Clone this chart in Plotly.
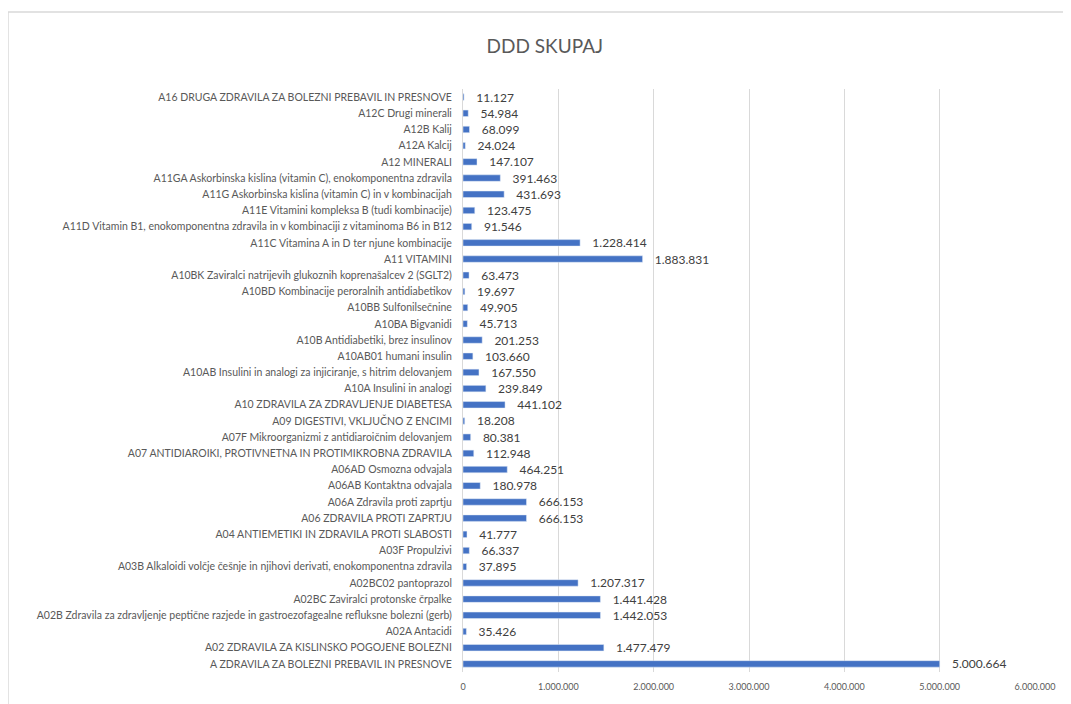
import plotly.graph_objects as go

categories = [
    "A ZDRAVILA ZA BOLEZNI PREBAVIL IN PRESNOVE",
    "A02 ZDRAVILA ZA KISLINSKO POGOJENE BOLEZNI",
    "A02A Antacidi",
    "A02B Zdravila za zdravljenje peptične razjede in gastroezofagealne refluksne bolezni (gerb)",
    "A02BC Zaviralci protonske črpalke",
    "A02BC02 pantoprazol",
    "A03B Alkaloidi volčje češnje in njihovi derivati, enokomponentna zdravila",
    "A03F Propulzivi",
    "A04 ANTIEMETIKI IN ZDRAVILA PROTI SLABOSTI",
    "A06 ZDRAVILA PROTI ZAPRTJU",
    "A06A Zdravila proti zaprtju",
    "A06AB Kontaktna odvajala",
    "A06AD Osmozna odvajala",
    "A07 ANTIDIAROIKI, PROTIVNETNA IN PROTIMIKROBNA ZDRAVILA",
    "A07F Mikroorganizmi z antidiaroičnim delovanjem",
    "A09 DIGESTIVI, VKLJUČNO Z ENCIMI",
    "A10 ZDRAVILA ZA ZDRAVLJENJE DIABETESA",
    "A10A Insulini in analogi",
    "A10AB Insulini in analogi za injiciranje, s hitrim delovanjem",
    "A10AB01 humani insulin",
    "A10B Antidiabetiki, brez insulinov",
    "A10BA Bigvanidi",
    "A10BB Sulfonilsečnine",
    "A10BD Kombinacije peroralnih antidiabetikov",
    "A10BK Zaviralci natrijevih glukoznih koprenašalcev 2 (SGLT2)",
    "A11 VITAMINI",
    "A11C Vitamina A in D ter njune kombinacije",
    "A11D Vitamin B1, enokomponentna zdravila in v kombinaciji z vitaminoma B6 in B12",
    "A11E Vitamini kompleksa B (tudi kombinacije)",
    "A11G Askorbinska kislina (vitamin C) in v kombinacijah",
    "A11GA Askorbinska kislina (vitamin C), enokomponentna zdravila",
    "A12 MINERALI",
    "A12A Kalcij",
    "A12B Kalij",
    "A12C Drugi minerali",
    "A16 DRUGA ZDRAVILA ZA BOLEZNI PREBAVIL IN PRESNOVE",
]

values = [
    5000664, 1477479, 35426, 1442053, 1441428, 1207317, 37895, 66337, 41777,
    666153, 666153, 180978, 464251, 112948, 80381, 18208, 441102, 239849,
    167550, 103660, 201253, 45713, 49905, 19697, 63473, 1883831, 1228414,
    91546, 123475, 431693, 391463, 147107, 24024, 68099, 54984, 11127,
]

x_ticks = [0, 1000000, 2000000, 3000000, 4000000, 5000000, 6000000]

font_fam = "Lato, Open Sans, sans-serif"

fig = go.Figure(
    go.Bar(
        x=values,
        y=categories,
        orientation="h",
        marker=dict(color="#4472C4"),
        texttemplate="\u00a0\u00a0\u00a0%{x:,}",
        textposition="outside",
        constraintext="none",
        textfont=dict(size=12, color="#404040", family=font_fam),
        cliponaxis=False,
    )
)

fig.update_layout(
    width=1063,
    height=696,
    separators=",.",
    paper_bgcolor="white",
    plot_bgcolor="white",
    margin=dict(l=455, r=36, t=81, b=32),
    bargap=0.6,
    showlegend=False,
    title=dict(
        text="DDD SKUPAJ",
        x=0.505,
        xanchor="center",
        y=0.945,
        yanchor="middle",
        font=dict(size=19, color="#595959", family=font_fam),
    ),
    xaxis=dict(
        range=[0, 6000000],
        tickvals=x_ticks,
        tickformat=",",
        showgrid=True,
        gridcolor="#d9d9d9",
        gridwidth=1,
        zeroline=False,
        showline=False,
        ticks="",
        ticklabelstandoff=8,
        tickfont=dict(size=9, color="#595959", family=font_fam),
    ),
    yaxis=dict(
        type="category",
        categoryorder="array",
        categoryarray=categories,
        showgrid=False,
        zeroline=False,
        showline=True,
        linecolor="#d9d9d9",
        ticks="",
        ticklabelstandoff=8,
        tickfont=dict(size=10.5, color="#595959", family=font_fam),
        automargin=False,
    ),
    shapes=[
        dict(
            type="rect",
            xref="paper",
            yref="paper",
            x0=-0.7955,
            x1=1.1,
            y0=-0.1,
            y1=1.132,
            line=dict(color="#d9d9d9", width=1.5),
            fillcolor="rgba(0,0,0,0)",
            layer="below",
        )
    ],
)

fig.write_html("out.html")
